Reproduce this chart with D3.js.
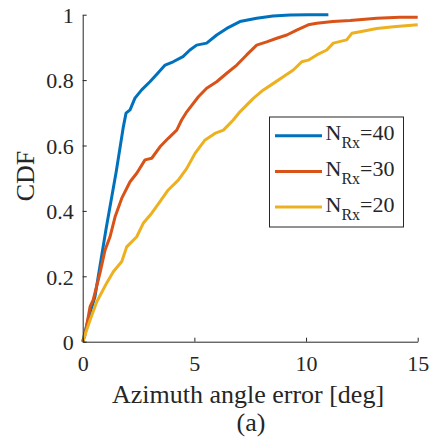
<!DOCTYPE html>
<html>
<head>
<meta charset="utf-8">
<script src="https://cdn.jsdelivr.net/npm/d3@7"></script>
<style>
  body { margin: 0; background: #fff; }
  svg { display: block; font-family: "Liberation Serif", "Times New Roman", serif; }
  .axis-line { stroke: #262626; stroke-width: 1; fill: none; }
  .tick-text { font-size: 22px; fill: #262626; }
  .axis-text { font-size: 26px; fill: #262626; }
  .legend-text { font-size: 22px; fill: #262626; }
</style>
</head>
<body>
<svg id="chart" width="436" height="443"></svg>
<script>
// series: azimuth error (deg) and CDF value
var err40 = [0, 0.25, 0.55, 1.04, 1.5, 1.82, 1.94, 2.12, 2.34, 2.64, 3.01, 3.37, 3.69, 4.05, 4.49, 4.8, 5.1, 5.55, 6.0, 6.45, 7.04, 7.79, 8.52, 9.28, 10.09, 11.0];
var cdf40 = [0, 0.07, 0.138, 0.342, 0.52, 0.657, 0.699, 0.709, 0.745, 0.77, 0.795, 0.822, 0.846, 0.856, 0.872, 0.892, 0.907, 0.913, 0.938, 0.958, 0.979, 0.989, 0.996, 0.999, 1.0, 1.0];

var err30 = [0, 0.1, 0.33, 0.47, 0.77, 1.0, 1.22, 1.45, 1.75, 2.12, 2.42, 2.79, 3.09, 3.46, 3.83, 4.21, 4.43, 4.66, 5.18, 5.55, 6.0, 6.45, 6.9, 7.34, 7.79, 8.24, 8.69, 9.14, 9.58, 10.1, 10.48, 11.2, 11.97, 13.17, 14.2, 15];
var cdf30 = [0, 0.02, 0.107, 0.128, 0.209, 0.28, 0.32, 0.382, 0.439, 0.489, 0.515, 0.556, 0.561, 0.596, 0.622, 0.647, 0.678, 0.703, 0.749, 0.775, 0.795, 0.821, 0.846, 0.877, 0.907, 0.917, 0.928, 0.938, 0.953, 0.969, 0.974, 0.979, 0.982, 0.989, 0.992, 0.992];

var err20 = [0, 0.33, 0.63, 1.07, 1.37, 1.75, 1.97, 2.42, 2.71, 3.09, 3.46, 3.83, 4.28, 4.66, 5.03, 5.48, 5.92, 6.3, 6.74, 7.04, 7.64, 8.09, 8.54, 8.98, 9.43, 9.81, 10.1, 10.48, 10.93, 11.22, 11.82, 12.05, 12.42, 13.17, 13.91, 15];
var cdf20 = [0, 0.066, 0.122, 0.179, 0.214, 0.245, 0.29, 0.321, 0.362, 0.393, 0.428, 0.464, 0.494, 0.53, 0.576, 0.617, 0.637, 0.647, 0.678, 0.703, 0.744, 0.77, 0.79, 0.81, 0.831, 0.856, 0.861, 0.877, 0.892, 0.913, 0.923, 0.943, 0.948, 0.958, 0.963, 0.969];

var seriesNames = ['40', '30', '20'];
var seriesColors = ['#0072BD', '#D95319', '#EDB120'];
var xTicks = [0, 5, 10, 15];
var yTicks = [0, 0.2, 0.4, 0.6, 0.8, 1];

var series = [
  { name: seriesNames[0], color: seriesColors[0], pts: d3.zip(err40, cdf40) },
  { name: seriesNames[1], color: seriesColors[1], pts: d3.zip(err30, cdf30) },
  { name: seriesNames[2], color: seriesColors[2], pts: d3.zip(err20, cdf20) }
];

var svg = d3.select('#chart');

var x = d3.scaleLinear().domain([0, 15]).range([82.7, 417.7]);
var y = d3.scaleLinear().domain([0, 1]).range([341.7, 14.7]);

var line = d3.line()
    .x(function(d) { return x(d[0]); })
    .y(function(d) { return y(d[1]); });

//curves
svg.append('g')
    .selectAll('path')
    .data(series)
    .join('path')
    .attr('fill', 'none')
    .attr('stroke', function(d) { return d.color; })
    .attr('stroke-width', 3)
    .attr('stroke-linejoin', 'round')
    .attr('d', function(d) { return line(d.pts); });

//x axis, ticks pointing inward
var xAxis = svg.append('g')
    .attr('transform', 'translate(0,' + y(0) + ')')
    .call(d3.axisBottom(x).tickValues(xTicks).tickSize(-4).tickSizeOuter(0).tickFormat(d3.format('d')))
    .attr('font-family', null)
    .attr('font-size', null);
xAxis.select('.domain').attr('class', 'axis-line');
xAxis.selectAll('.tick line').attr('stroke', '#262626');
xAxis.selectAll('.tick text')
    .attr('class', 'tick-text')
    .attr('y', 29)
    .attr('dy', 0);

//y axis
var yAxis = svg.append('g')
    .attr('transform', 'translate(' + x(0) + ',0)')
    .call(d3.axisLeft(y).tickValues(yTicks).tickSize(-4).tickSizeOuter(0).tickFormat(function(d) { return d3.format('~g')(d); }))
    .attr('font-family', null)
    .attr('font-size', null);
yAxis.select('.domain').attr('class', 'axis-line');
yAxis.selectAll('.tick line').attr('stroke', '#262626');
yAxis.selectAll('.tick text')
    .attr('class', 'tick-text')
    .attr('x', -9)
    .attr('dy', '0.35em');

//labels
svg.append('text')
    .attr('class', 'axis-text')
    .attr('text-anchor', 'middle')
    .attr('x', 248)
    .attr('y', 403)
    .text('Azimuth angle error [deg]');

svg.append('text')
    .attr('class', 'axis-text')
    .attr('text-anchor', 'middle')
    .attr('x', 251)
    .attr('y', 431)
    .text('(a)');

svg.append('text')
    .attr('class', 'axis-text')
    .attr('text-anchor', 'middle')
    .attr('transform', 'translate(34,176) rotate(-90)')
    .text('CDF');

//legend
var legend = svg.append('g').attr('transform', 'translate(269.5,117)');
legend.append('rect')
    .attr('width', 134)
    .attr('height', 110)
    .attr('fill', '#fff')
    .attr('stroke', '#262626')
    .attr('stroke-width', 1);

var item = legend.selectAll('g.item')
    .data(series)
    .join('g')
    .attr('class', 'item')
    .attr('transform', function(d, i) { return 'translate(0,' + (18.7 + i * 35.7) + ')'; });

item.append('line')
    .attr('x1', 5.5)
    .attr('x2', 52.5)
    .attr('stroke', function(d) { return d.color; })
    .attr('stroke-width', 3);

item.append('text')
    .attr('class', 'legend-text')
    .attr('x', 56)
    .attr('y', 4.5)
    .call(function(t) {
        t.append('tspan').text('N');
        t.append('tspan').attr('font-size', 16).attr('dy', 8).text('Rx');
        t.append('tspan').attr('dy', -8).text(function(d) { return '=' + d.name; });
    });
</script>
</body>
</html>
